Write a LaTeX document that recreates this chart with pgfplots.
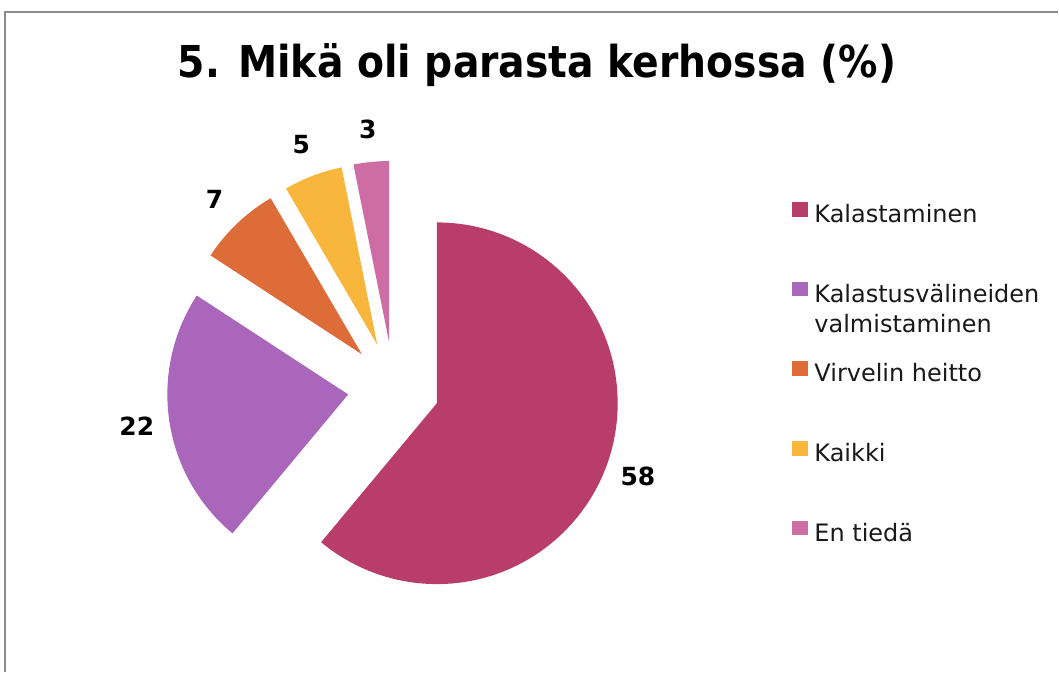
\documentclass[border=0pt]{standalone}
\usepackage{fontspec}
\setmainfont{DejaVu Sans}
\usepackage{graphicx}
\usepackage{pgfplots}
\pgfplotsset{compat=1.18}

\definecolor{cA}{RGB}{184,61,104}
\definecolor{cB}{RGB}{169,102,186}
\definecolor{cC}{RGB}{222,108,56}
\definecolor{cD}{RGB}{248,183,60}
\definecolor{cE}{RGB}{206,108,164}
\definecolor{framegray}{RGB}{140,140,140}

% pie geometry (pt = pixel units of the reference)
\def\pcx{394}\def\pcy{285}\def\pr{181}\def\pd{46}\def\plab{214}

\newcommand\pieslice[2]{%
  \fill[#2] (axis cs:\csname pieX#1\endcsname,\csname pieY#1\endcsname)
     -- ++(\csname pieS#1\endcsname:\pr pt)
     arc[start angle=\csname pieS#1\endcsname, end angle=\csname pieE#1\endcsname, radius=\pr pt] -- cycle;
  \node[font=\fontsize{25}{30}\selectfont\bfseries, text=black]
     at (axis cs:\csname pieLX#1\endcsname,\csname pieLY#1\endcsname) {\csname pieV#1\endcsname};
}

\begin{document}
\begin{tikzpicture}
% values of the pie (percent)
\def\pievals{58,22,7,5,3}
\gdef\pietotal{0}
\foreach \v in \pievals {\pgfmathparse{\pietotal+\v}\xdef\pietotal{\pgfmathresult}}
\gdef\piecum{0}
\foreach \v [count=\i] in \pievals {%
  \pgfmathsetmacro\sa{90-(360/\pietotal)*\piecum}%
  \pgfmathparse{\piecum+\v}\xdef\piecum{\pgfmathresult}%
  \pgfmathsetmacro\ea{90-(360/\pietotal)*\piecum}%
  \pgfmathsetmacro\ma{(\sa+\ea)/2}%
  \pgfmathsetmacro\ax{\pcx+\pd*cos(\ma)}%
  \pgfmathsetmacro\ay{\pcy+\pd*sin(\ma)}%
  \pgfmathsetmacro\lx{\ax+\plab*cos(\ma)}%
  \pgfmathsetmacro\ly{\ay+\plab*sin(\ma)}%
  \pgfmathtruncatemacro\vv{\v}%
  \expandafter\xdef\csname pieS\i\endcsname{\sa}%
  \expandafter\xdef\csname pieE\i\endcsname{\ea}%
  \expandafter\xdef\csname pieX\i\endcsname{\ax}%
  \expandafter\xdef\csname pieY\i\endcsname{\ay}%
  \expandafter\xdef\csname pieLX\i\endcsname{\lx}%
  \expandafter\xdef\csname pieLY\i\endcsname{\ly}%
  \expandafter\xdef\csname pieV\i\endcsname{\vv}%
}
\begin{axis}[
  x=1pt, y=1pt, xmin=0, xmax=1059, ymin=0, ymax=673,
  hide axis, clip=false,
  legend image code/.code={\fill[#1,draw=none] (0pt,0pt) rectangle (16pt,14.7pt);},
  legend cell align=left,
  legend style={draw=none, fill=none, at={(axis cs:793,471)}, anchor=north west,
    inner sep=0pt, row sep=53pt, column sep=6pt,
    nodes={inner sep=0pt, text height=18pt, text depth=6pt,
           font=\fontsize{24}{30}\selectfont, text=black!90}},
]
\path (axis cs:0,0) rectangle (axis cs:1059,673);
\draw[framegray, line width=2pt] (axis cs:5,0) -- (axis cs:5,661) -- (axis cs:1059,661);

\pieslice{1}{cA}
\pieslice{2}{cB}
\pieslice{3}{cC}
\pieslice{4}{cD}
\pieslice{5}{cE}

\node[anchor=base] at (axis cs:537.5,595)
  {\resizebox{719pt}{\height}{\fontsize{44}{50}\selectfont\bfseries 5. Mikä oli parasta kerhossa (\%)}};

\addlegendimage{fill=cA}\addlegendentry{Kalastaminen}
\addlegendimage{fill=cB}\addlegendentry{\raisebox{0pt}[\height][0pt]{\begin{tabular}[t]{@{}l@{}}Kalastusvälineiden\\valmistaminen\end{tabular}}}
\addlegendimage{fill=cC}\addlegendentry{Virvelin heitto}
\addlegendimage{fill=cD}\addlegendentry{Kaikki}
\addlegendimage{fill=cE}\addlegendentry{En tiedä}
\end{axis}
\end{tikzpicture}
\end{document}
